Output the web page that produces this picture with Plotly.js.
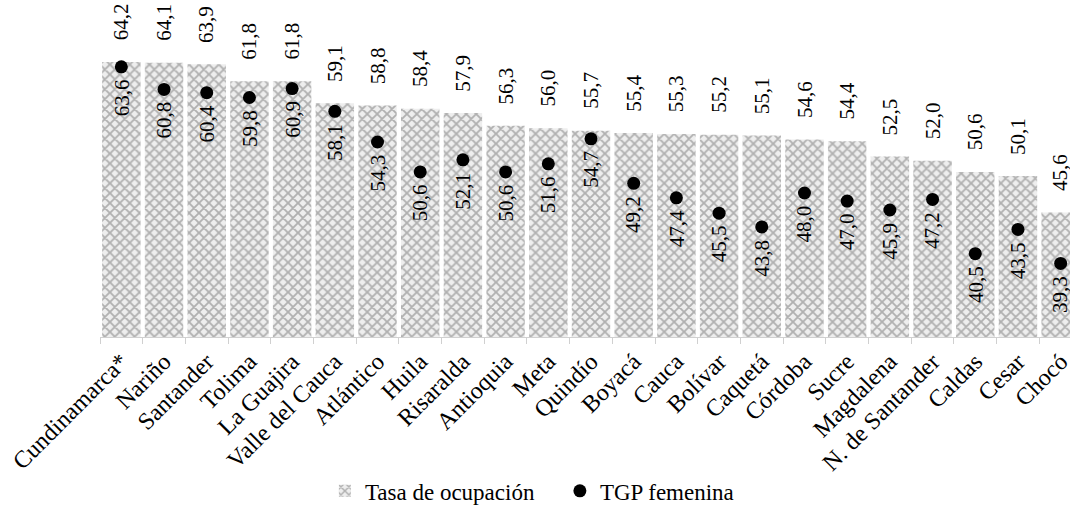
<!DOCTYPE html>
<html>
<head>
<meta charset="utf-8">
<script src="https://cdn.plot.ly/plotly-3.0.1.min.js"></script>
<style>
html,body{margin:0;padding:0;overflow:hidden;background:#fff;width:1070px;height:506px;}
#wrap{width:1070px;height:506px;overflow:hidden;position:relative;}
#chart{width:1090px;height:506px;}
</style>
</head>
<body>
<div id="wrap"><div id="chart"></div></div>
<script>
const categories = ['Cundinamarca*','Nariño','Santander','Tolima','La Guajira','Valle del Cauca','Atlántico','Huila','Risaralda','Antioquia','Meta','Quindío','Boyacá','Cauca','Bolívar','Caquetá','Córdoba','Sucre','Magdalena','N. de Santander','Caldas','Cesar','Chocó'];
const tasaOcupacion = [64.2,64.1,63.9,61.8,61.8,59.1,58.8,58.4,57.9,56.3,56.0,55.7,55.4,55.3,55.2,55.1,54.6,54.4,52.5,52.0,50.6,50.1,45.6];
const tgpFemenina = [63.6,60.8,60.4,59.8,60.9,58.1,54.3,50.6,52.1,50.6,51.6,54.7,49.2,47.4,45.5,43.8,48.0,47.0,45.9,47.2,40.5,43.5,39.3];
const seriesNames = ['Tasa de ocupación','TGP femenina'];

const FONT = 'Liberation Serif';
const fmt = v => v.toFixed(1).replace('.', ',');

const traces = [
  {type: 'bar', name: seriesNames[0], x: categories, y: tasaOcupacion,
    marker: {color: '#c8c8c8', line: {width: 0},
      pattern: {shape: 'x', fgcolor: '#b0b0b0', bgcolor: '#eeeeee', size: 7, solidity: 0.45, fillmode: 'replace'}},
    hoverinfo: 'skip'},
  {type: 'scatter', mode: 'markers', name: seriesNames[1], x: categories, y: tgpFemenina,
    marker: {color: '#000', size: 13}, hoverinfo: 'skip'}
];

const annotations = [];
categories.forEach((c, i) => {
  annotations.push({x: c, y: tasaOcupacion[i], xref: 'x', yref: 'y', text: fmt(tasaOcupacion[i]),
    textangle: -90, showarrow: false, yshift: 40, xanchor: 'center', yanchor: 'middle',
    font: {family: FONT, size: 21, color: '#000'}});
  annotations.push({x: c, y: tgpFemenina[i], xref: 'x', yref: 'y', text: fmt(tgpFemenina[i]),
    textangle: -90, showarrow: false, yshift: -31, xanchor: 'center', yanchor: 'middle',
    font: {family: FONT, size: 21, color: '#000'}});
});

const layout = {
  width: 1090, height: 506,
  margin: {l: 100, r: 8, t: 15, b: 169, autoexpand: false},
  paper_bgcolor: '#fff', plot_bgcolor: '#fff',
  font: {family: FONT, color: '#000'},
  bargap: 0.1, showlegend: true,
  legend: {orientation: 'h', x: 0.229, xanchor: 'left', y: -0.478, yanchor: 'middle',
    entrywidth: 190, entrywidthmode: 'pixels',
    font: {family: FONT, size: 23, color: '#000'}},
  xaxis: {type: 'category', range: [-0.5, 22.5], tickangle: -45, tickfont: {family: FONT, size: 24, color: '#000'},
    showline: true, linecolor: '#d0d0d0', linewidth: 1,
    ticks: 'outside', tickson: 'boundaries', ticklen: 6, tickcolor: '#d0d0d0',
    showgrid: false, automargin: false, fixedrange: true},
  yaxis: {range: [30.2, 70], visible: false, showgrid: false, zeroline: false, fixedrange: true},
  annotations: annotations
};

Plotly.newPlot('chart', traces, layout, {displayModeBar: false, staticPlot: true});
</script>
</body>
</html>
